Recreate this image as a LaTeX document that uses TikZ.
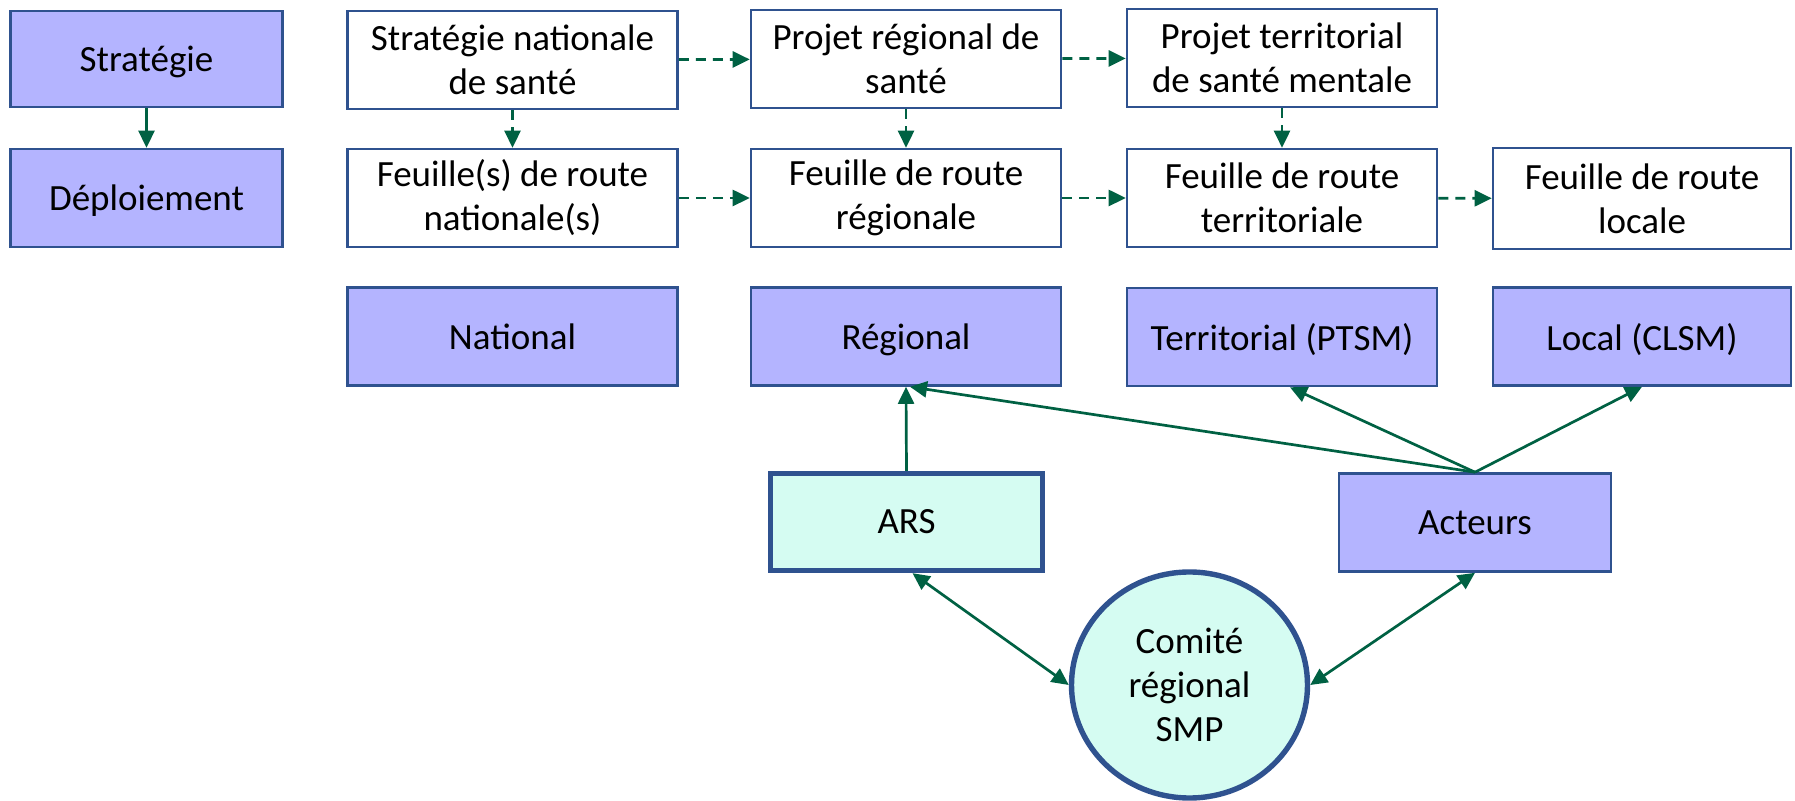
\documentclass[tikz,border=0pt]{standalone}
\usepackage{fontspec}
\setmainfont{Carlito}
\usetikzlibrary{arrows.meta,shapes.geometric}

\definecolor{bleuclair}{RGB}{180,180,255}
\definecolor{bordbleu}{RGB}{47,82,143}
\definecolor{vertfleche}{RGB}{0,97,67}
\definecolor{cyanclair}{RGB}{213,252,242}

\tikzset{every picture/.style={line width=1.3pt}}
\tikzset{
  boite/.style={draw=bordbleu, line width=1.3pt, rectangle, align=center, inner sep=2pt,
    font=\fontsize{18.5}{22}\selectfont},
  boxbleu/.style={boite, fill=bleuclair, text depth=0pt},
  boxblanc/.style={boite, fill=white},
  boxars/.style={boite, fill=cyanclair, line width=2.7pt},
  fleche/.style={draw=vertfleche, line width=1.35pt, -{Triangle[length=8.5pt,width=8pt]}},
  flechedouble/.style={fleche, {Triangle[length=8.5pt,width=8pt]}-{Triangle[length=8.5pt,width=8pt]}},
  flechetiret/.style={fleche, dash pattern=on 5pt off 3.5pt},
}

\begin{document}
\begin{tikzpicture}[x=0.5pt,y=0.5pt,yscale=-1,xscale=1]
\path[use as bounding box] (0,0) rectangle (1795,801);

%Shape: Rectangle
\draw (146.5,59) node[boxbleu, minimum width=136pt, minimum height=48pt] (strat) {Stratégie};
%Shape: Rectangle
\draw (146.5,198) node[boxbleu, minimum width=136pt, minimum height=49pt] (deploi) {Déploiement};

%Shape: Rectangle
\draw (512.5,60) node[boxblanc, minimum width=165pt, minimum height=49pt] (sns) {Stratégie nationale\\de santé};
%Shape: Rectangle
\draw (906,59) node[boxblanc, minimum width=155pt, minimum height=49pt] (prs) {Projet régional de\\santé};
%Shape: Rectangle
\draw (1282,58) node[boxblanc, minimum width=155pt, minimum height=49pt] (ptsm) {Projet territorial\\de santé mentale};

%Shape: Rectangle
\draw (512.5,198) node[boxblanc, minimum width=165pt, minimum height=49pt] (frnat) {Feuille(s) de route\\nationale(s)};
%Shape: Rectangle
\draw (906,198) node[boxblanc, minimum width=155pt, minimum height=49pt] (frreg) {Feuille de route\\régionale};
%Shape: Rectangle
\draw (1282,198) node[boxblanc, minimum width=155pt, minimum height=49pt] (frterr) {Feuille de route\\territoriale};
%Shape: Rectangle
\draw (1642,198.5) node[boxblanc, minimum width=149pt, minimum height=50.5pt] (frloc) {Feuille de route\\locale};

%Shape: Rectangle
\draw (512.5,336.5) node[boxbleu, minimum width=165pt, minimum height=49pt] (national) {National};
%Shape: Rectangle
\draw (906,336.5) node[boxbleu, minimum width=155pt, minimum height=49pt] (regional) {Régional};
%Shape: Rectangle
\draw (1282,337) node[boxbleu, minimum width=155pt, minimum height=49pt] (territorial) {Territorial (PTSM)};
%Shape: Rectangle
\draw (1642,336.5) node[boxbleu, minimum width=149pt, minimum height=49pt] (local) {Local (CLSM)};

%Shape: Rectangle
\draw (906.5,522) node[boxars, minimum width=136pt, minimum height=48.5pt] (ars) {ARS};
%Shape: Rectangle
\draw (1475,522.5) node[boxbleu, minimum width=136pt, minimum height=49pt] (acteurs) {Acteurs};
%Shape: Ellipse
\draw (1189.5,685) node[boxars, ellipse, inner sep=0pt, minimum width=118pt, minimum height=113pt] (smp) {Comité\\régional\\SMP};

%Straight Lines
\draw[fleche] (strat) -- (deploi);
%Straight Lines
\draw[flechetiret] (sns) -- (frnat);
\draw[flechetiret] (prs) -- (frreg);
\draw[flechetiret] (ptsm) -- (frterr);
%Straight Lines
\draw[flechetiret] (sns) -- (prs);
\draw[flechetiret] (prs) -- (ptsm);
%Straight Lines
\draw[flechetiret] (frnat) -- (frreg);
\draw[flechetiret] (frreg) -- (frterr);
\draw[flechetiret] (frterr) -- (frloc);

%Straight Lines
\draw[fleche] (ars.north) -- (regional.south);
\draw[fleche] (acteurs.north) -- ([xshift=2pt]regional.south);
\draw[fleche] (acteurs.north) -- ([xshift=4pt]territorial.south);
\draw[fleche] (acteurs.north) -- (local.south);
%Straight Lines
\draw[flechedouble] ([xshift=3pt]ars.south) -- (smp.west);
\draw[flechedouble] (acteurs.south) -- (smp.east);

\end{tikzpicture}
\end{document}
